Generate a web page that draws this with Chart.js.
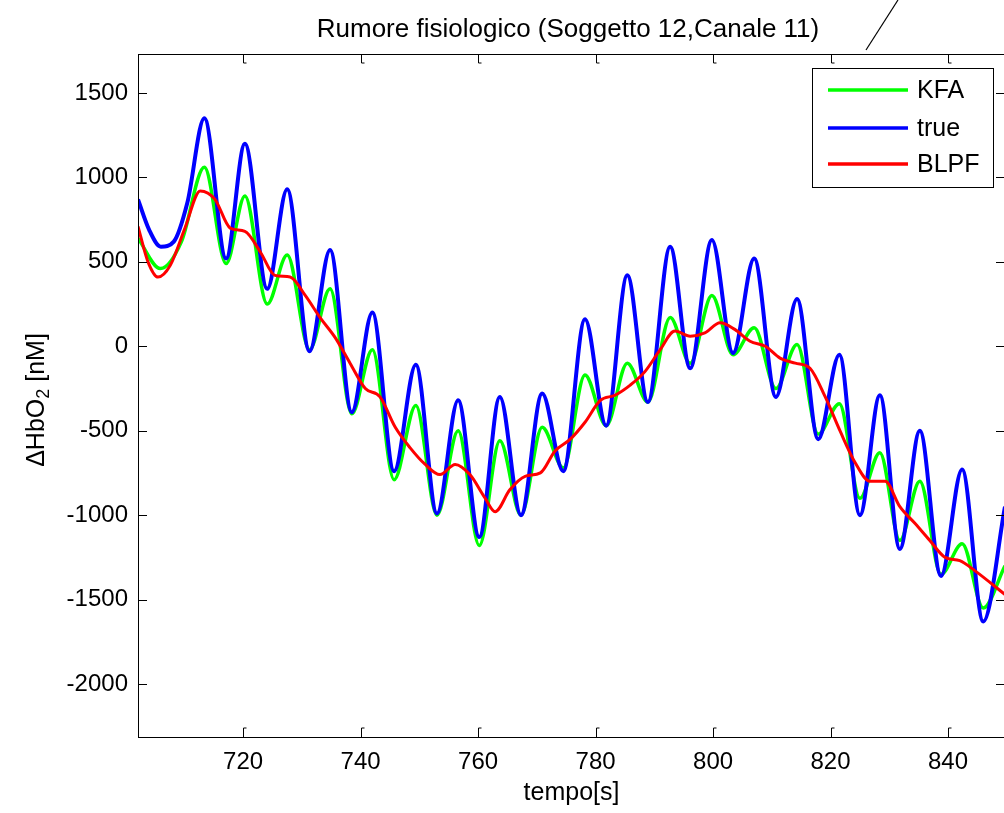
<!DOCTYPE html>
<html>
<head>
<meta charset="utf-8">
<script src="https://cdn.jsdelivr.net/npm/chart.js@4.4.1/dist/chart.umd.min.js"></script>
<style>
html, body { margin: 0; padding: 0; background: #fff; overflow: hidden; }
#wrap { width: 1012px; height: 813px; }
</style>
</head>
<body>
<div id="wrap"><canvas id="c" width="1012" height="813"></canvas></div>
<script>
// values
const tTrue = [702.1, 704.0, 706.0, 708.2, 710.5, 713.4, 717.1, 720.3, 724.1, 727.5, 731.3, 734.8, 738.5, 742.0, 745.7, 749.4, 753.0, 756.6, 760.2, 763.7, 767.3, 770.9, 774.5, 778.2, 781.8, 785.4, 788.9, 792.7, 796.1, 799.8, 803.4, 807.0, 810.7, 814.3, 817.9, 821.5, 825.0, 828.4, 831.8, 835.2, 838.8, 842.4, 846.0, 849.7];
const vTrue = [870, 690, 590, 620, 850, 1350, 520, 1200, 340, 930, -30, 570, -390, 200, -740, -110, -990, -320, -1130, -300, -1000, -280, -740, 160, -470, 420, -330, 590, -130, 630, -40, 520, -300, 280, -550, -50, -1000, -290, -1200, -500, -1360, -730, -1630, -950];

const tKfa = [702.1, 705.9, 709.5, 713.4, 717.1, 720.3, 724.1, 727.5, 731.3, 734.8, 738.5, 742.0, 745.7, 749.4, 753.0, 756.6, 760.2, 763.7, 767.3, 770.9, 774.5, 778.2, 781.8, 785.4, 788.9, 792.7, 796.1, 799.8, 803.4, 807.0, 810.7, 814.3, 817.9, 821.5, 825.0, 828.4, 831.8, 835.2, 838.8, 842.4, 846.0, 849.7];
const vKfa = [640, 460, 620, 1060, 490, 890, 250, 540, -20, 340, -400, -20, -790, -350, -1000, -500, -1180, -560, -1000, -480, -720, -170, -470, -100, -330, 170, -100, 300, -50, 110, -250, 10, -520, -340, -900, -630, -1150, -800, -1350, -1170, -1550, -1300];

const tBlpf = [702.1, 703.8, 705.5, 707.6, 710.1, 712.7, 715.2, 717.8, 720.3, 722.9, 725.4, 728.0, 730.6, 733.1, 735.7, 738.2, 740.8, 743.3, 745.9, 748.4, 751.0, 753.5, 756.1, 758.6, 761.2, 762.9, 765.4, 768.0, 770.6, 773.1, 775.7, 778.2, 780.8, 783.3, 785.9, 788.4, 791.0, 793.5, 796.1, 798.6, 801.2, 803.7, 806.3, 808.9, 811.4, 814.0, 816.5, 819.1, 821.6, 824.2, 826.7, 829.3, 831.8, 834.4, 836.9, 839.5, 842.0, 844.6, 849.7];
const vBlpf = [710, 500, 410, 480, 700, 920, 870, 700, 680, 560, 420, 410, 300, 170, 50, -100, -250, -300, -480, -600, -700, -760, -700, -760, -900, -980, -850, -770, -750, -620, -550, -450, -320, -290, -230, -150, -20, 90, 60, 80, 140, 100, 30, 0, -70, -100, -130, -300, -500, -690, -800, -800, -950, -1050, -1150, -1250, -1270, -1330, -1470];

const xTicks = [720, 740, 760, 780, 800, 820, 840];
const yTicks = [-2000, -1500, -1000, -500, 0, 500, 1000, 1500];

const FONT = "'Liberation Sans', Arial, Helvetica, sans-serif";

const pts = (t, v) => t.map((x, i) => ({ x: x, y: v[i] }));

const decor = {
    id: 'decor',
    afterDraw(chart) {
        const { ctx, chartArea: a, scales: { x, y } } = chart;
        ctx.save();

        // axes box and inward ticks
        ctx.strokeStyle = '#000';
        ctx.lineWidth = 1;
        ctx.strokeRect(a.left + 0.5, a.top + 0.5, a.right - a.left, a.bottom - a.top);
        const len = 9;
        ctx.beginPath();
        xTicks.forEach(v => {
            const px = Math.round(x.getPixelForValue(v)) + 0.5;
            ctx.moveTo(px, a.bottom); ctx.lineTo(px, a.bottom - len); ctx.lineTo(px + 3, a.bottom - len);
            ctx.moveTo(px, a.top); ctx.lineTo(px, a.top + len); ctx.lineTo(px + 3, a.top + len);
        });
        yTicks.forEach(v => {
            const py = Math.round(y.getPixelForValue(v)) + 0.5;
            ctx.moveTo(a.left, py); ctx.lineTo(a.left + len, py);
            ctx.moveTo(a.right, py); ctx.lineTo(a.right - len, py);
        });
        ctx.stroke();

        // legend
        const lx = a.right - 193, ly = a.top + 14, lw = 181, lh = 119;
        ctx.fillStyle = '#fff';
        ctx.fillRect(lx, ly, lw, lh);
        ctx.strokeRect(lx + 0.5, ly + 0.5, lw, lh);
        ctx.font = '25px ' + FONT;
        ctx.textBaseline = 'middle';
        ctx.textAlign = 'left';
        const rows = [22, 60, 96];
        chart.data.datasets.forEach((ds, i) => {
            const ry = ly + rows[i];
            ctx.strokeStyle = ds.borderColor;
            ctx.lineWidth = 3.5;
            ctx.beginPath();
            ctx.moveTo(lx + 16, ry); ctx.lineTo(lx + 96, ry);
            ctx.stroke();
            ctx.fillStyle = '#000';
            ctx.fillText(ds.label, lx + 105, ry + 1);
        });

        // title and pointer line
        ctx.fillStyle = '#000';
        ctx.textAlign = 'center';
        ctx.font = '26px ' + FONT;
        ctx.fillText('Rumore fisiologico (Soggetto 12,Canale 11)', 568, 30);
        ctx.strokeStyle = '#000';
        ctx.lineWidth = 1.2;
        ctx.beginPath();
        ctx.moveTo(866, 50); ctx.lineTo(898, 0);
        ctx.stroke();

        // x label
        ctx.font = '25px ' + FONT;
        ctx.fillText('tempo[s]', (a.left + a.right) / 2, 793);

        // y label with subscript
        ctx.translate(44, 400);
        ctx.rotate(-Math.PI / 2);
        const big = '25px ' + FONT, small = '18px ' + FONT;
        ctx.font = big;
        const w1 = ctx.measureText('\u0394HbO').width;
        const w3 = ctx.measureText(' [nM]').width;
        ctx.font = small;
        const w2 = ctx.measureText('2').width;
        let sx = -(w1 + w2 + w3) / 2;
        ctx.textAlign = 'left';
        ctx.textBaseline = 'alphabetic';
        ctx.font = big;
        ctx.fillText('\u0394HbO', sx, 0);
        ctx.font = small;
        ctx.fillText('2', sx + w1, 5);
        ctx.font = big;
        ctx.fillText(' [nM]', sx + w1 + w2, 0);

        ctx.restore();
    }
};

new Chart(document.getElementById('c'), {
    type: 'line',
    data: {
        datasets: [
            {
                label: 'KFA',
                data: pts(tKfa, vKfa),
                borderColor: '#00ff00',
                borderWidth: 3.5,
                order: 2
            },
            {
                label: 'true',
                data: pts(tTrue, vTrue),
                borderColor: '#0000ff',
                borderWidth: 4,
                order: 1
            },
            {
                label: 'BLPF',
                data: pts(tBlpf, vBlpf),
                borderColor: '#ff0000',
                borderWidth: 3,
                order: 0
            }
        ]
    },
    options: {
        responsive: false,
        animation: false,
        events: [],
        layout: { padding: { top: 54, right: 7, left: 0, bottom: 0 } },
        elements: {
            point: { radius: 0 },
            line: { cubicInterpolationMode: 'monotone', fill: false }
        },
        plugins: {
            legend: { display: false },
            tooltip: { enabled: false }
        },
        scales: {
            x: {
                type: 'linear',
                min: 702.1,
                max: 849.7,
                afterBuildTicks: s => { s.ticks = xTicks.map(v => ({ value: v })); },
                afterFit: s => { s.height = 76; },
                grid: { display: false, drawTicks: false },
                border: { display: false },
                ticks: {
                    padding: 11,
                    color: '#000',
                    font: { family: FONT, size: 24 },
                    maxRotation: 0,
                    autoSkip: false,
                    callback: v => String(v)
                }
            },
            y: {
                type: 'linear',
                min: -2314,
                max: 1731,
                afterBuildTicks: s => { s.ticks = yTicks.map(v => ({ value: v })); },
                afterFit: s => { s.width = 138; },
                grid: { display: false, drawTicks: false },
                border: { display: false },
                ticks: {
                    padding: 10,
                    color: '#000',
                    font: { family: FONT, size: 24 },
                    autoSkip: false,
                    callback: v => String(v)
                }
            }
        }
    },
    plugins: [decor]
});
</script>
</body>
</html>
